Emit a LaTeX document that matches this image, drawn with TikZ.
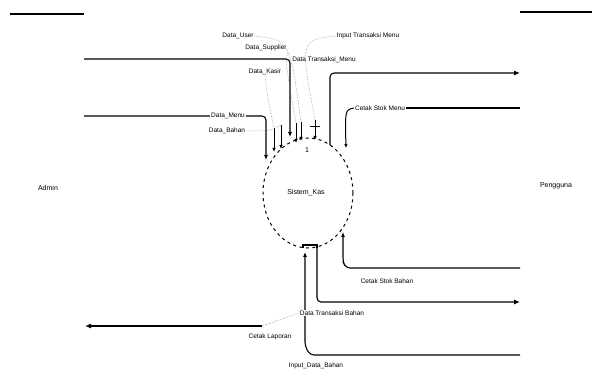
\documentclass[tikz,border=0pt]{standalone}
\usepackage{fontspec}
\setmainfont{Liberation Sans}
\usetikzlibrary{arrows.meta,shapes.geometric,calc}
\begin{document}
\begin{tikzpicture}[x=1pt,y=-1pt,
  flow/.style={line width=1.1pt,rounded corners=4pt},
  inflow/.style={flow,-{Latex[length=5pt,width=4pt]}},
  lbl/.style={font=\fontsize{6.5}{7}\selectfont,inner sep=1pt,fill=white},
  ent/.style={font=\fontsize{7}{8}\selectfont,inner sep=1pt},
  leader/.style={densely dotted,line width=0.5pt,gray}]
\useasboundingbox (0,0) rectangle (592,374);

% external entities
\draw[line width=1.1pt] (10,14) -- (84,14);
\draw[line width=1.1pt] (520,12) -- (592,12);
\node[ent] (admin) at (48,188) {Admin};
\node[ent] (user) at (556,186) {Pengguna};

% process
\node[ellipse,draw,dash pattern=on 3pt off 3.5pt,line width=1pt,
      minimum width=90pt,minimum height=110pt] (P) at (308,193) {};
\node[ent] (pnum) at (307,150) {1};
\node[ent] (pname) at (306,193) {Sistem\_Kas};

% flows from the left side
\coordinate (s1) at (84,59);
\draw[inflow] (s1) -- (290,59) -- (290,137);
\coordinate (s2) at (84,116);
\draw[inflow] (s2) -- (266,116) -- (266,160);
\node[lbl] (lmenu) at (228,116) {Data\_Menu};
\node[lbl] (lbahan) at (227,131) {Data\_Bahan};
\node[lbl] (lsupp) at (266,48) {Data\_Supplier};
\node[lbl] (luser) at (238,36) {Data\_User};
\node[lbl] (linput) at (368,36) {Input Transaksi Menu};
\node[lbl] (ltm) at (324,60) {Data Transaksi\_Menu};
\node[lbl] (lkasir) at (265,72) {Data\_Kasir};

% short incoming arrows at the top of the process
\foreach \xx/\ya/\yb in {274/128/152, 281/125/149, 296/123/143, 301/122/141, 315/120/140}
  \draw[line width=1pt,-{Latex[length=4pt,width=3.5pt]}] (\xx,\ya) -- (\xx,\yb);
\draw[leader] (lsupp.south east) .. controls (285,60) .. (296,123);
\draw[leader] (luser.east) .. controls (290,40) .. (301,122);
\draw[leader] (linput.west) .. controls (300,40) .. (315,120);
\draw[leader] (lkasir.south) .. controls (268,100) .. (274,128);
\draw[leader] (lbahan.east) .. controls (270,131) .. (281,125);
\draw[line width=0.8pt] (310,126) -- (320,126);

% flows to the right side
\coordinate (r1) at (520,73);
\draw[flow,-{Latex[length=6pt,width=5pt]}] (330,145) -- (330,73) -- (r1);
\coordinate (r2) at (520,108);
\draw[line width=1.1pt] (400,108) -- (r2);
\node[lbl] (lcsm) at (380,108) {Cetak Stok Menu};
\draw[line width=1pt,-{Latex[length=4pt,width=3.5pt]}] (lcsm.west) .. controls (345,110) .. (346,148);

% bottom flows
\draw[line width=1.1pt] (303,248) -- (303,245) -- (317,245) -- (317,248);
\coordinate (r3) at (520,302);
\draw[flow,-{Latex[length=6pt,width=5pt]}] (317,245) -- (317,302) -- (r3);
\coordinate (r4) at (520,355);
\draw[inflow] (r4) -- (310,355) -- (305,346) -- (305,252);
\coordinate (r5) at (520,268);
\draw[inflow] (r5) -- (346,268) -- (343,262) -- (343,232);
\node[lbl] (lcsb) at (387,281) {Cetak Stok Bahan};
\node[lbl] (ltb) at (332,313) {Data Transaksi Bahan};
\node[lbl] (llap) at (270,337) {Cetak Laporan};
\node[lbl] (lidb) at (316,366) {Input\_Data\_Bahan};
\coordinate (l1) at (85,326);
\draw[flow,-{Latex[length=6pt,width=5pt]}] (262,326) -- (l1);
\draw[leader] (262,326) .. controls (268,324) .. (ltb.west);
\end{tikzpicture}
\end{document}
